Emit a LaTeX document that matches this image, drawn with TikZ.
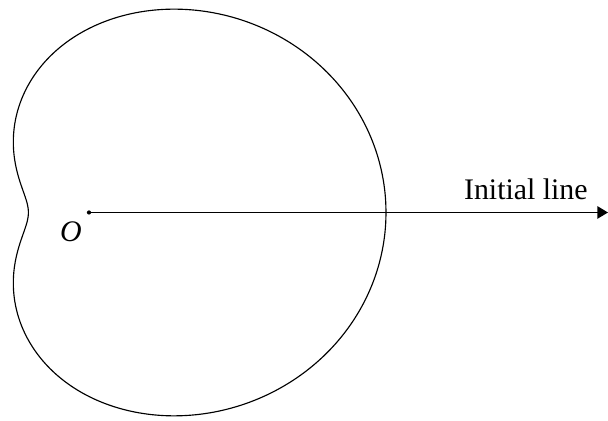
\documentclass[tikz,border=0pt]{standalone}
\usepackage{fontspec}
\setmainfont{Liberation Serif}
\usetikzlibrary{arrows.meta}

\begin{document}
\begin{tikzpicture}[x=0.02cm,y=0.02cm,
        lbl/.style={anchor=base east,inner sep=0pt,font=\fontsize{17}{20}\selectfont}]
        \useasboundingbox (-89,-208.5) rectangle (519,212.5);
        \coordinate (O) at (0,0);
        \coordinate (tip) at (519,0);
        % curve r(theta)
        \draw[line width=0.65pt] plot[domain=0:360,samples=181,smooth]
            (\x:{181.4+111.8*cos(\x)-2.6*cos(2*\x)+6.4*cos(3*\x)});
        \draw[line width=0.75pt,-{Triangle[length=6pt,width=7pt]}] (O) -- (tip);
        \fill (O) circle (1.2pt);
        \node[lbl] (initlbl) at (499,12.5) {Initial line};
        \node[lbl,font=\fontsize{17}{20}\selectfont\itshape] (olbl) at (-7,-29.5) {O};
\end{tikzpicture}
\end{document}
